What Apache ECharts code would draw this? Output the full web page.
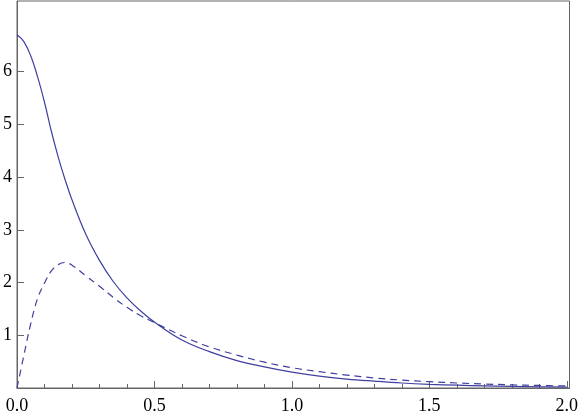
<!DOCTYPE html>
<html>
<head>
<meta charset="utf-8">
<script src="https://cdn.jsdelivr.net/npm/echarts@6/dist/echarts.min.js"></script>
<style>html,body{margin:0;padding:0;background:#fff}#c{width:581px;height:415px}</style>
</head>
<body>
<div id="c"></div>
<script>
const xValues      = [0, 0.025, 0.05, 0.075, 0.1, 0.125, 0.15, 0.175, 0.2, 0.25, 0.3, 0.35, 0.4, 0.45, 0.5, 0.6, 0.7, 0.8, 0.9, 1.0, 1.1, 1.2, 1.3, 1.4, 1.5, 1.6, 1.7, 1.8, 1.9, 2.0];
const solidValues  = [6.70, 6.57, 6.30, 5.90, 5.42, 4.87, 4.38, 3.95, 3.57, 2.92, 2.42, 2.02, 1.71, 1.46, 1.25, 0.91, 0.69, 0.52, 0.40, 0.30, 0.225, 0.17, 0.13, 0.095, 0.07, 0.053, 0.04, 0.03, 0.023, 0.017];
const dashedValues = [0.00, 0.62, 1.22, 1.70, 1.99, 2.22, 2.34, 2.38, 2.33, 2.13, 1.93, 1.72, 1.53, 1.37, 1.24, 0.99, 0.78, 0.625, 0.49, 0.385, 0.31, 0.245, 0.19, 0.15, 0.12, 0.095, 0.075, 0.06, 0.048, 0.038];
const xTickLabels  = ['0.0', '0.5', '1.0', '1.5', '2.0'];
const yTickLabels  = ['1', '2', '3', '4', '5', '6'];

const lineColor = '#3f3f9f';
const frameColor = '#666';
const font = 'Liberation Serif';
const richStyle = {t: {fontFamily: font, fontSize: 18, color: '#000'}};

const chart = echarts.init(document.getElementById('c'), null, {renderer: 'canvas'});
chart.setOption({
  animation: false,
  backgroundColor: '#fff',
  textStyle: {fontFamily: font},
  grid: {left: 14, right: 9, top: 1, bottom: 27, show: true, borderColor: frameColor, borderWidth: 1, containLabel: false},
  xAxis: {
    type: 'value', min: 0, max: 2.01, interval: 0.5,
    axisLine: {show: true, onZero: false, lineStyle: {color: frameColor, width: 1}},
    axisTick: {show: true, inside: true, length: 7, lineStyle: {color: frameColor}},
    minorTick: {show: true, splitNumber: 5, length: 4, lineStyle: {color: frameColor}},
    splitLine: {show: false},
    axisLabel: {
      margin: 9, color: '#000', fontFamily: font, fontSize: 18, rich: richStyle,
      showMinLabel: true, showMaxLabel: true,
      formatter: function (v) {
        const i = Math.round(v / 0.5);
        if (Math.abs(v - i * 0.5) > 1e-6) return '';
        return xTickLabels[i] !== undefined ? '{t|' + xTickLabels[i] + '}' : '';
      }
    }
  },
  yAxis: {
    type: 'value', min: 0, max: 7.34, interval: 1,
    axisLine: {show: true, onZero: false, lineStyle: {color: frameColor, width: 1}},
    axisTick: {show: true, inside: true, length: 7, lineStyle: {color: frameColor}, customValues: [0, 1, 2, 3, 4, 5, 6]},
    splitLine: {show: false},
    axisLabel: {
      margin: 5, color: '#000', fontFamily: font, fontSize: 18, rich: richStyle,
      customValues: [1, 2, 3, 4, 5, 6],
      formatter: function (v) {
        const i = Math.round(v);
        if (Math.abs(v - i) > 1e-6 || i < 1) return '';
        return yTickLabels[i - 1] !== undefined ? '{t|' + yTickLabels[i - 1] + '}' : '';
      }
    }
  },
  series: [
    {
      type: 'line', showSymbol: false, smooth: 0.4,
      data: xValues.map((x, i) => [x, solidValues[i]]),
      lineStyle: {color: lineColor, width: 1.2}
    },
    {
      type: 'line', showSymbol: false, smooth: 0.4,
      data: xValues.map((x, i) => [x, dashedValues[i]]),
      lineStyle: {color: lineColor, width: 1.2, type: [7, 5]}
    }
  ]
});
</script>
</body>
</html>
